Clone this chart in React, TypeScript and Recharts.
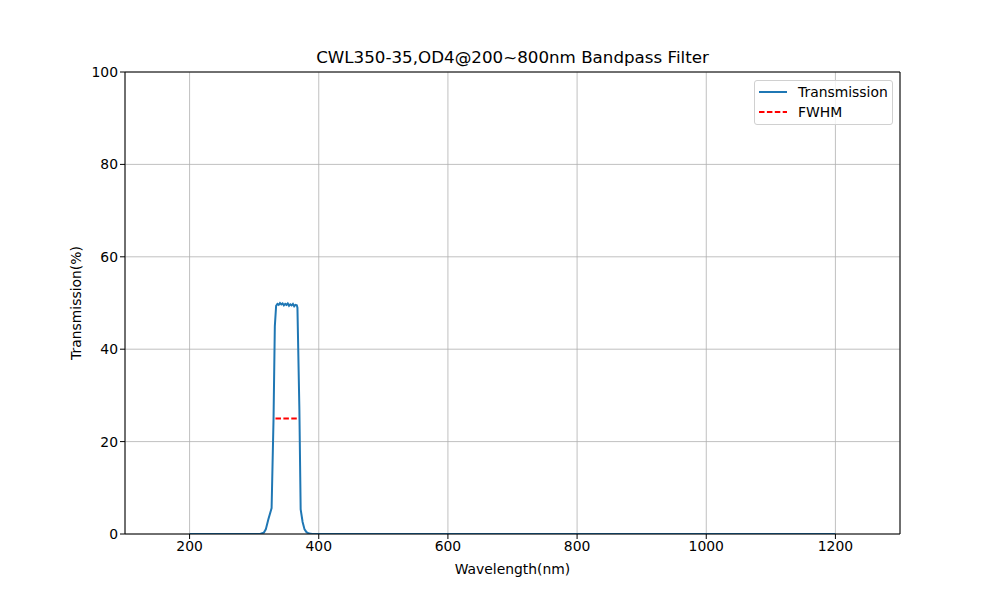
import { LineChart, Line, XAxis, YAxis, CartesianGrid, ReferenceLine } from "recharts";

const wavelengths = [200, 250, 300, 305, 310, 315, 318, 322, 327, 330, 332, 334, 336, 338, 340, 342, 344, 346, 348, 350, 352, 354, 356, 358, 360, 362, 364, 366, 367, 370, 372, 375, 378, 381, 385, 390, 400, 500, 600, 700, 800, 900, 1000, 1100, 1200];
const transmission = [0, 0, 0, 0, 0.05, 0.3, 1.0, 3.2, 5.6, 25, 45, 49.4, 49.8, 49.6, 50, 49.7, 49.9, 49.5, 49.8, 49.6, 49.9, 49.4, 49.7, 49.5, 49.8, 49.3, 49.6, 49.5, 49, 27, 5.3, 2.6, 1.0, 0.4, 0.1, 0, 0, 0, 0, 0, 0, 0, 0, 0, 0];

const fwhmX = [333, 367];
const fwhmY = [25, 25];

const xTicks = [200, 400, 600, 800, 1000, 1200];
const yTicks = [0, 20, 40, 60, 80, 100];

const curve = wavelengths.map((x, i) => ({ x, t: transmission[i] }));
const fwhm = fwhmX.map((x, i) => ({ x, f: fwhmY[i] }));

const font = "DejaVu Sans, sans-serif";
const fs = 13.9;

function LegendBox() {
  const row = { display: "flex", alignItems: "center", height: 20 };
  return (
    <div
      style={{
        position: "absolute",
        left: 754,
        top: 80,
        boxSizing: "border-box",
        width: 139,
        height: 45,
        border: "1px solid #d0d0d0",
        borderRadius: 3,
        background: "rgba(255,255,255,0.8)",
        padding: "1px 0 0 4px",
        fontFamily: font,
        fontSize: fs,
        color: "#000",
      }}
    >
      <div style={row}>
        <svg width={28} height={4} style={{ marginRight: 11 }}>
          <line x1={0} y1={2} x2={28} y2={2} stroke="#1f77b4" strokeWidth={2} />
        </svg>
        <span>Transmission</span>
      </div>
      <div style={row}>
        <svg width={28} height={4} style={{ marginRight: 11 }}>
          <line x1={0} y1={2} x2={28} y2={2} stroke="#ff0000" strokeWidth={2} strokeDasharray="5.5 2.4" />
        </svg>
        <span>FWHM</span>
      </div>
    </div>
  );
}

export default function App() {
  return (
    <div style={{ position: "absolute", left: 0, top: 0, width: 1000, height: 600, background: "#fff" }}>
      <div
        style={{
          position: "absolute",
          top: 47,
          left: 125,
          width: 775,
          textAlign: "center",
          fontFamily: font,
          fontSize: 16.7,
        }}
      >
        CWL350-35,OD4@200~800nm Bandpass Filter
      </div>
      <LineChart width={1000} height={600} data={curve} margin={{ top: 72, right: 100, bottom: 26, left: 65 }}>
        <CartesianGrid stroke="#b0b0b0" strokeWidth={0.8} />
        <XAxis
          dataKey="x"
          type="number"
          domain={[100, 1300]}
          ticks={xTicks}
          allowDataOverflow
          height={40}
          stroke="#000"
          tickSize={5}
          tick={{ fill: "#000", fontFamily: font, fontSize: fs }}
          label={{ value: "Wavelength(nm)", position: "insideBottom", offset: 0, fill: "#000", fontFamily: font, fontSize: fs }}
        />
        <YAxis
          type="number"
          domain={[0, 100]}
          ticks={yTicks}
          allowDataOverflow
          width={60}
          stroke="#000"
          tickSize={5}
          tick={{ fill: "#000", fontFamily: font, fontSize: fs }}
          label={{ value: "Transmission(%)", angle: -90, position: "insideLeft", offset: 11, fill: "#000", fontFamily: font, fontSize: fs, style: { textAnchor: "middle" } }}
        />
        <ReferenceLine y={100} stroke="#000" strokeWidth={1} />
        <ReferenceLine x={1300} stroke="#000" strokeWidth={1} />
        <Line
          dataKey="t"
          stroke="#1f77b4"
          strokeWidth={2}
          dot={false}
          activeDot={false}
          type="linear"
          isAnimationActive={false}
        />
        <Line
          data={fwhm}
          dataKey="f"
          stroke="#ff0000"
          strokeWidth={2}
          strokeDasharray="5.5 2.4"
          dot={false}
          activeDot={false}
          type="linear"
          isAnimationActive={false}
        />
      </LineChart>
      <LegendBox />
    </div>
  );
}
